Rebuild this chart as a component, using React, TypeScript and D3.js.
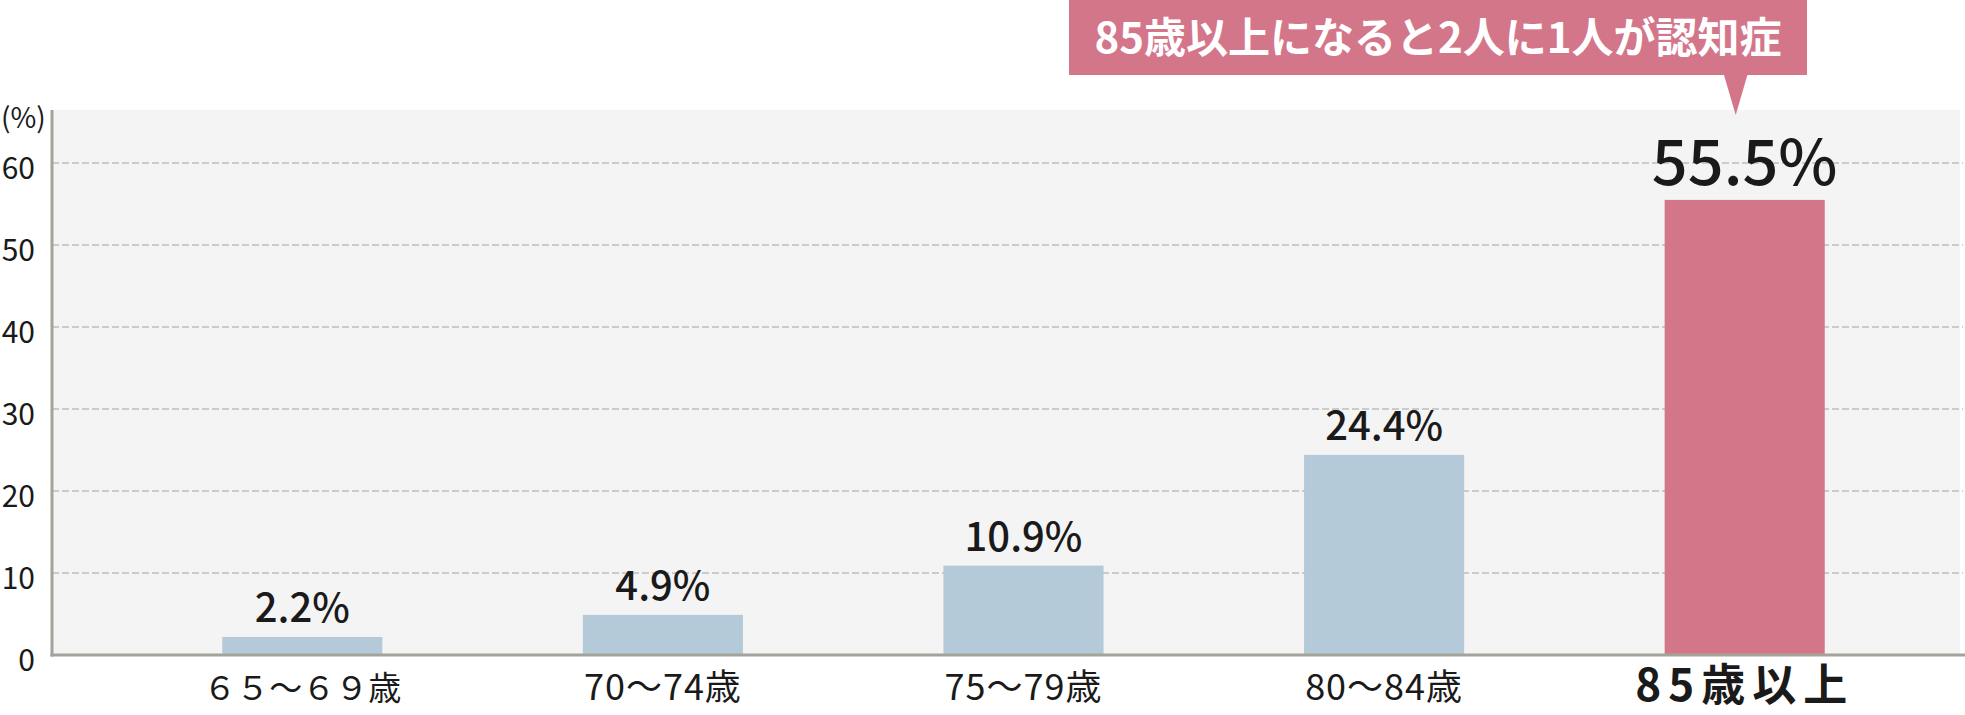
import { useEffect, useRef } from "react";
import * as d3 from "d3";

const categories = ["６５～６９歳", "70～74歳", "75～79歳", "80～84歳", "85歳以上"];
const rates = [2.2, 4.9, 10.9, 24.4, 55.5];
const rateLabels = ["2.2%", "4.9%", "10.9%", "24.4%", "55.5%"];
const yTicks = [0, 10, 20, 30, 40, 50, 60];
const calloutText = "85歳以上になると2人に1人が認知症";

const WIDTH = 1965;
const HEIGHT = 715;
const FONT = "'Noto Sans CJK JP', 'Noto Sans', sans-serif";
const BLUE = "#b4cad8";
const PINK = "#d4768a";

export default function App() {
  const svgRef = useRef<SVGSVGElement | null>(null);

  useEffect(() => {
    const svg = d3.select(svgRef.current);
    svg.selectAll("*").remove();

    const plot = { left: 52, right: 1960, top: 110, bottom: 655 };

    const x = d3
      .scaleBand()
      .domain(categories)
      .range([122, 1925])
      .paddingInner(0.556)
      .paddingOuter(0.278);

    const y = d3.scaleLinear().domain([0, 60]).range([plot.bottom, 163]);

    // plot background
    svg
      .append("rect")
      .attr("x", plot.left)
      .attr("y", plot.top)
      .attr("width", plot.right - plot.left)
      .attr("height", plot.bottom - plot.top)
      .attr("fill", "#f4f4f4");

    // dashed grid
    svg
      .append("g")
      .selectAll("line")
      .data(yTicks.filter((t) => t > 0))
      .join("line")
      .attr("x1", plot.left)
      .attr("x2", 1963)
      .attr("y1", (d) => y(d))
      .attr("y2", (d) => y(d))
      .attr("stroke", "#bdbdbd")
      .attr("stroke-width", 1.5)
      .attr("stroke-dasharray", "7,3");

    // y tick labels
    svg
      .append("g")
      .selectAll("text")
      .data(yTicks)
      .join("text")
      .attr("x", 35)
      .attr("y", (d) => y(d) + 16)
      .attr("text-anchor", "end")
      .attr("font-family", FONT)
      .attr("font-size", 30)
      .attr("fill", "#1a1a1a")
      .text((d) => d);

    svg
      .append("text")
      .attr("x", 1)
      .attr("y", 128)
      .attr("font-family", FONT)
      .attr("font-size", 28)
      .attr("fill", "#1a1a1a")
      .text("(%)");

    // bars
    svg
      .append("g")
      .selectAll("rect")
      .data(rates)
      .join("rect")
      .attr("x", (_, i) => x(categories[i])!)
      .attr("y", (d) => y(d))
      .attr("width", x.bandwidth())
      .attr("height", (d) => plot.bottom - y(d))
      .attr("fill", (_, i) => (i === rates.length - 1 ? PINK : BLUE));

    // value labels
    svg
      .append("g")
      .selectAll("text")
      .data(rates)
      .join("text")
      .attr("x", (_, i) => x(categories[i])! + x.bandwidth() / 2)
      .attr("y", (d) => y(d) - 15)
      .attr("text-anchor", "middle")
      .attr("font-family", FONT)
      .attr("font-weight", 500)
      .attr("font-size", (_, i) => (i === rates.length - 1 ? 63 : 40))
      .attr("fill", "#1a1a1a")
      .text((_, i) => rateLabels[i]);

    // axes lines
    svg
      .append("line")
      .attr("x1", plot.left)
      .attr("x2", plot.left)
      .attr("y1", plot.top)
      .attr("y2", plot.bottom + 1.5)
      .attr("stroke", "#a3a39c")
      .attr("stroke-width", 3);

    svg
      .append("line")
      .attr("x1", plot.left - 1.5)
      .attr("x2", WIDTH)
      .attr("y1", plot.bottom)
      .attr("y2", plot.bottom)
      .attr("stroke", "#a3a39c")
      .attr("stroke-width", 3);

    // category labels
    const last = categories.length - 1;
    svg
      .append("g")
      .selectAll("text")
      .data(categories)
      .join("text")
      .attr("x", (d) => x(d)! + x.bandwidth() / 2)
      .attr("y", (_, i) => (i === last ? 701 : 700))
      .attr("text-anchor", "middle")
      .attr("font-family", FONT)
      .attr("font-weight", (_, i) => (i === last ? 700 : 400))
      .attr("font-size", (_, i) => (i === 0 ? 33 : i === last ? 44 : 36))
      .attr("letter-spacing", (_, i) => (i === last ? 7 : i === 0 ? 0 : 1))
      .attr("fill", "#1a1a1a")
      .text((d) => d);

    // callout
    const callout = svg.append("g");
    callout
      .append("rect")
      .attr("x", 1069)
      .attr("y", 0)
      .attr("width", 738)
      .attr("height", 75)
      .attr("fill", PINK);
    const tipX = x(categories[4])! + x.bandwidth() / 2 - 9;
    callout
      .append("path")
      .attr("d", `M${tipX - 12},74 L${tipX + 12},74 L${tipX},115 Z`)
      .attr("fill", PINK);
    callout
      .append("text")
      .attr("x", 1438)
      .attr("y", 53)
      .attr("text-anchor", "middle")
      .attr("font-family", FONT)
      .attr("font-weight", 700)
      .attr("font-size", 42)
      .attr("fill", "#ffffff")
      .text(calloutText);
  }, []);

  return (
    <svg
      ref={svgRef}
      width={WIDTH}
      height={HEIGHT}
      style={{ position: "absolute", left: 0, top: 0, background: "#ffffff" }}
    />
  );
}
